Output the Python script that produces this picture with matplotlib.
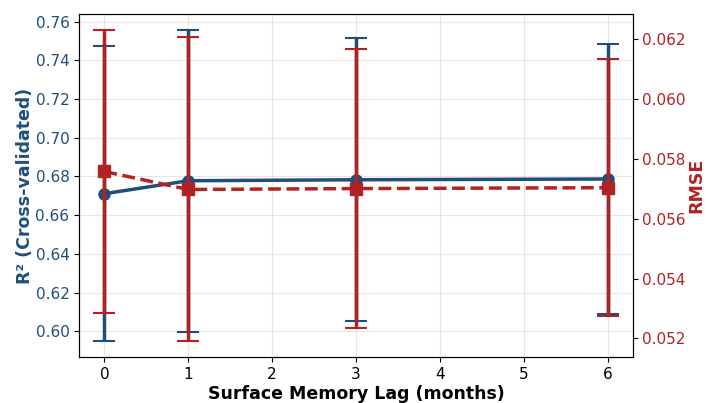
import numpy as np
import matplotlib.pyplot as plt

lags = [0, 1, 3, 6]
r2_mean = [0.6711, 0.6778, 0.6783, 0.6787]
r2_std = [0.0763, 0.0780, 0.0730, 0.0695]
rmse_mean = [0.05757, 0.05697, 0.05700, 0.05703]
rmse_std = [0.00473, 0.00507, 0.00464, 0.00429]

blue = '#1f4e79'
red = '#b22222'

fig, ax1 = plt.subplots(figsize=(7.07, 4.03), dpi=100)
fig.subplots_adjust(left=0.112, right=0.895, top=0.965, bottom=0.114)

ax1.errorbar(lags, r2_mean, yerr=r2_std, color=blue, marker='o', markersize=8,
             linewidth=2.5, elinewidth=2.5, capsize=8, capthick=1.5, label='R²')
ax1.set_xlabel('Surface Memory Lag (months)', fontsize=12.5, fontweight='bold', labelpad=2)
ax1.set_ylabel('R² (Cross-validated)', fontsize=12.5, fontweight='bold', color=blue, labelpad=1)
ax1.tick_params(axis='y', labelcolor=blue, labelsize=11)
ax1.tick_params(axis='x', labelsize=11)
ax1.grid(True, alpha=0.3)

ax2 = ax1.twinx()
ax2.errorbar(lags, rmse_mean, yerr=rmse_std, color=red, marker='s', markersize=8,
             linewidth=2.5, linestyle='--', elinewidth=2.5, capsize=8, capthick=1.5,
             label='RMSE')
ax2.set_ylabel('RMSE', fontsize=12.5, fontweight='bold', color=red, labelpad=1)
ax2.tick_params(axis='y', labelcolor=red, labelsize=11)

plt.savefig('out.png', dpi=100)
